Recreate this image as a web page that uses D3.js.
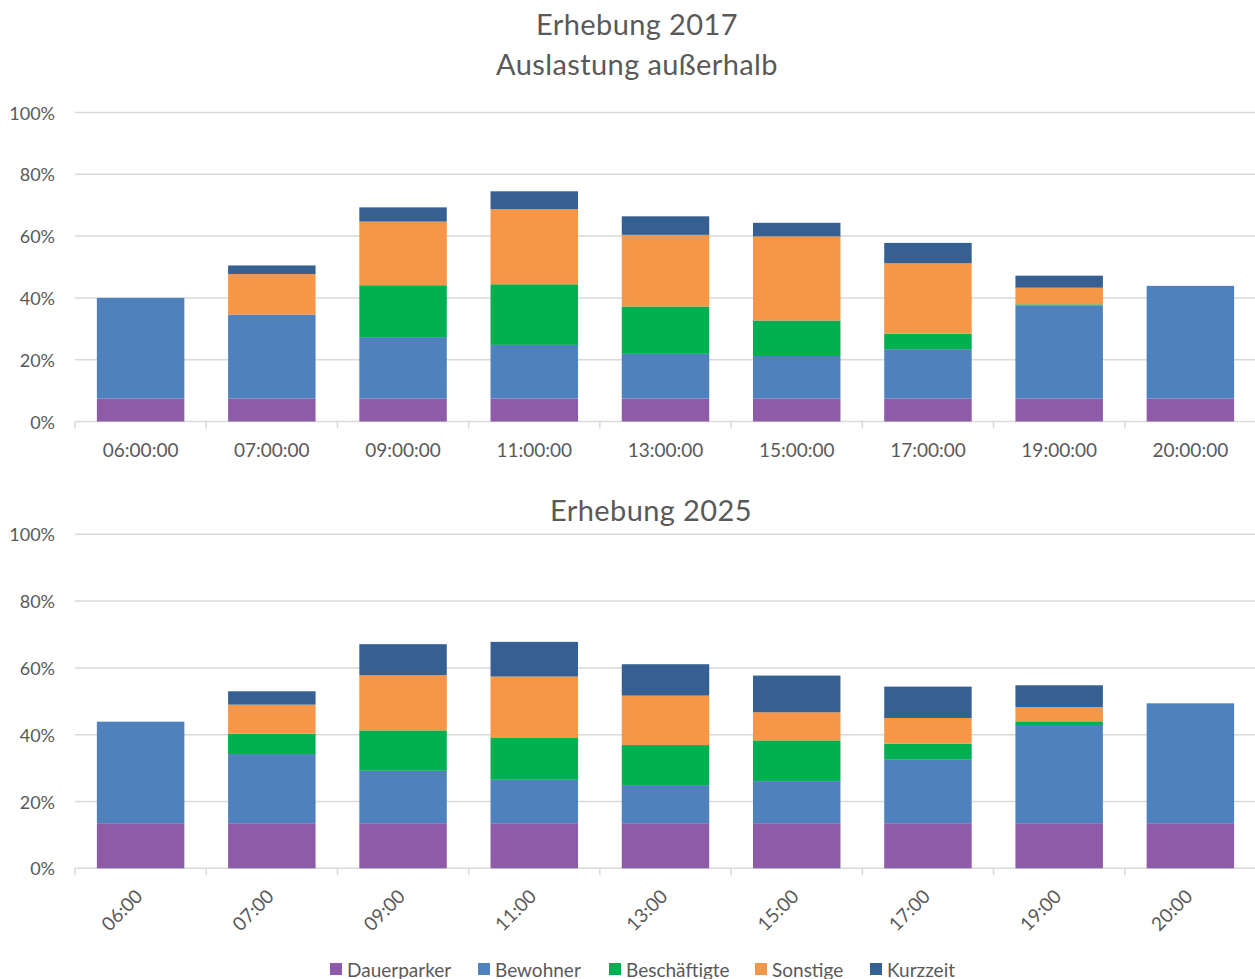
<!DOCTYPE html>
<html lang="de">
  <head>
    <meta charset="UTF-8" />
    <title>Erhebung 2017 / 2025</title>
    <script src="https://d3js.org/d3.v7.min.js"></script>
    <style>
      body { margin: 0; background: #fff; }
      text { font-family: Lato, "Open Sans", sans-serif; fill: #595959; }
    </style>
  </head>
  <body>
    <div id="chart"></div>
    <script>
      // categories and series (values in %)
      const times2017 = ["06:00:00", "07:00:00", "09:00:00", "11:00:00", "13:00:00", "15:00:00", "17:00:00", "19:00:00", "20:00:00"];
      const times2025 = ["06:00", "07:00", "09:00", "11:00", "13:00", "15:00", "17:00", "19:00", "20:00"];
      const seriesNames = ["Dauerparker", "Bewohner", "Beschäftigte", "Sonstige", "Kurzzeit"];
      const seriesColors = ["#8E5BA9", "#4F81BD", "#00AF4F", "#F79646", "#366092"];

      const dauerparker2017 = [7.4, 7.4, 7.4, 7.4, 7.4, 7.4, 7.4, 7.4, 7.4];
      const bewohner2017 = [32.6, 27.2, 19.9, 17.4, 14.5, 13.8, 16.0, 30.2, 36.5];
      const beschaeftigte2017 = [0, 0, 16.8, 19.6, 15.3, 11.5, 5.0, 0.3, 0];
      const sonstige2017 = [0, 13.1, 20.6, 24.3, 23.2, 27.2, 22.8, 5.4, 0];
      const kurzzeit2017 = [0, 2.8, 4.6, 5.8, 6.0, 4.4, 6.6, 3.9, 0];

      const dauerparker2025 = [13.5, 13.5, 13.5, 13.5, 13.5, 13.5, 13.5, 13.5, 13.5];
      const bewohner2025 = [30.4, 20.7, 15.7, 13.0, 11.4, 12.6, 19.0, 29.4, 35.9];
      const beschaeftigte2025 = [0, 6.1, 12.1, 12.5, 12.0, 12.2, 4.8, 1.1, 0];
      const sonstige2025 = [0, 8.7, 16.5, 18.4, 14.8, 8.4, 7.7, 4.3, 0];
      const kurzzeit2025 = [0, 4.0, 9.3, 10.4, 9.4, 11.0, 9.4, 6.5, 0];

      const yTicks = [0, 0.2, 0.4, 0.6, 0.8, 1.0];

      const width = 1255, height = 979;
      const svg = d3.select("#chart").append("svg")
        .attr("width", width)
        .attr("height", height);

      // build rows for d3.stack
      function rows(cats, cols) {
        return cats.map((c, i) => {
          const r = { cat: c };
          seriesNames.forEach((s, j) => (r[s] = cols[j][i] / 100));
          return r;
        });
      }

      function drawPanel(cats, cols, y0, y1, rotated) {
        const data = rows(cats, cols);
        const x = d3.scaleBand().domain(cats).range([75, 1256])
          .paddingInner(1 / 3).paddingOuter(1 / 6);
        const y = d3.scaleLinear().domain([0, 1]).range([y0, y1]);
        const g = svg.append("g");

        // gridlines
        g.selectAll(".grid").data(yTicks).join("line")
          .attr("x1", 75).attr("x2", 1256)
          .attr("y1", d => y(d)).attr("y2", d => y(d))
          .attr("stroke", "#d9d9d9").attr("stroke-width", 1.5);

        // y labels
        g.selectAll(".ylab").data(yTicks).join("text")
          .attr("x", 55).attr("y", d => y(d))
          .attr("text-anchor", "end").attr("dominant-baseline", "central")
          .style("font-size", "18px")
          .text(d3.format(".0%"));

        // stacked bars
        const stacked = d3.stack().keys(seriesNames)(data);
        g.selectAll(".layer").data(stacked).join("g")
          .attr("fill", (d, i) => seriesColors[i])
          .selectAll("rect").data(d => d).join("rect")
          .attr("x", d => x(d.data.cat))
          .attr("width", x.bandwidth())
          .attr("y", d => y(d[1]))
          .attr("height", d => y(d[0]) - y(d[1]));

        // category boundary ticks
        const step = x.step();
        g.selectAll(".tick").data(d3.range(cats.length + 1)).join("line")
          .attr("x1", i => 75 + i * step).attr("x2", i => 75 + i * step)
          .attr("y1", y0).attr("y2", y0 + 7)
          .attr("stroke", "#d9d9d9").attr("stroke-width", 1.5);

        // category labels
        if (!rotated) {
          g.selectAll(".xlab").data(cats).join("text")
            .attr("x", d => x(d) + x.bandwidth() / 2)
            .attr("y", y0 + 28)
            .attr("text-anchor", "middle").attr("dominant-baseline", "central")
            .style("font-size", "19px")
            .text(d => d);
        } else {
          g.selectAll(".xlab").data(cats).join("text")
            .attr("transform", d => `translate(${x(d) + x.bandwidth() / 2 - 2},${y0 + 24}) rotate(-45)`)
            .attr("text-anchor", "end").attr("dominant-baseline", "central")
            .style("font-size", "19px")
            .text(d => d);
        }
      }

      drawPanel(times2017, [dauerparker2017, bewohner2017, beschaeftigte2017, sonstige2017, kurzzeit2017], 421.5, 112.5, false);
      drawPanel(times2025, [dauerparker2025, bewohner2025, beschaeftigte2025, sonstige2025, kurzzeit2025], 868.3, 534.3, true);

      // titles
      const titleStyle = sel => sel
        .attr("text-anchor", "middle").attr("dominant-baseline", "central")
        .style("font-size", "29px").style("letter-spacing", "0.4px");
      svg.append("text").attr("x", 637).attr("y", 23).call(titleStyle).text("Erhebung 2017");
      svg.append("text").attr("x", 637).attr("y", 63).call(titleStyle).text("Auslastung außerhalb");
      svg.append("text").attr("x", 651).attr("y", 509).call(titleStyle).text("Erhebung 2025");

      // legend
      const legendX = [330, 478, 609, 755, 870];
      const legend = svg.append("g").selectAll("g").data(seriesNames).join("g")
        .attr("transform", (d, i) => `translate(${legendX[i]},969)`);
      legend.append("rect")
        .attr("x", 0).attr("y", -6).attr("width", 12).attr("height", 12)
        .attr("fill", (d, i) => seriesColors[i]);
      legend.append("text")
        .attr("x", 17).attr("y", 0).attr("dominant-baseline", "central")
        .style("font-size", "19px").text(d => d);
    </script>
  </body>
</html>
